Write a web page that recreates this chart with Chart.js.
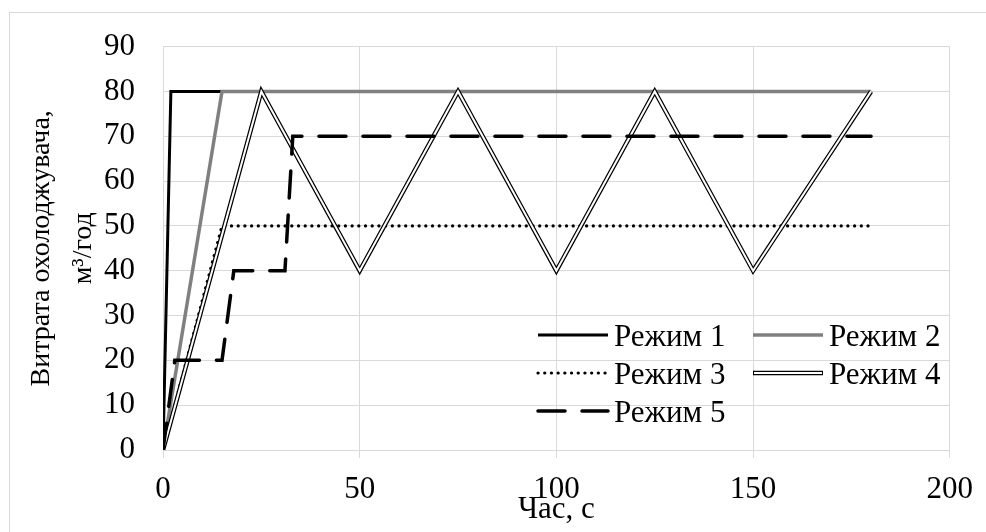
<!DOCTYPE html>
<html>
<head>
<meta charset="utf-8">
<title>Витрата охолоджувача</title>
<script src="https://cdn.jsdelivr.net/npm/chart.js"></script>
<style>
  html, body { margin: 0; padding: 0; background: #ffffff; }
  #wrap { position: relative; width: 986px; height: 532px; }
</style>
</head>
<body>
<div id="wrap"><canvas id="chart" width="986" height="532"></canvas></div>
<script>
// Series (time in s, flow in m3/h)
const seriesLabels = ['Режим 1', 'Режим 2', 'Режим 3', 'Режим 4', 'Режим 5'];

const mode1X = [0, 2, 180];
const mode1Y = [0, 80, 80];

const mode2X = [0, 15, 180];
const mode2Y = [0, 80, 80];

const mode3X = [0, 15, 180];
const mode3Y = [0, 50, 50];

const mode4X = [0, 25, 50, 75, 100, 125, 150, 180];
const mode4Y = [0, 80, 40, 80, 40, 80, 40, 80];

const mode5X = [0, 3, 15, 18, 31, 33, 180];
const mode5Y = [0, 20, 20, 40, 40, 70, 70];

// Axis ticks
const xTicks = [0, 50, 100, 150, 200];
const yTicks = [0, 10, 20, 30, 40, 50, 60, 70, 80, 90];

const FONT = '"Liberation Serif", "Times New Roman", serif';
const GRID = '#d9d9d9';

function toPoints(xs, ys) {
  return xs.map((x, i) => ({ x: x, y: ys[i] }));
}

// Legend drawn inside the plot area, two columns like the original
const insideLegend = {
  id: 'insideLegend',
  afterDraw(chart) {
    const ctx = chart.ctx;
    const cols = [{ x0: 538, x1: 608, tx: 614 }, { x0: 753, x1: 823, tx: 829 }];
    const rows = [335, 373, 411];
    const items = chart.data.datasets.filter(d => d.legendKey !== undefined);
    items.forEach((ds, i) => {
      const c = cols[i % 2];
      const y = rows[Math.floor(i / 2)];
      ctx.save();
      ctx.lineCap = ds.borderCapStyle || 'butt';
      if (ds.doubleLine) {
        ctx.strokeStyle = '#000000';
        ctx.lineWidth = 4.5;
        ctx.beginPath(); ctx.moveTo(c.x0, y); ctx.lineTo(c.x1, y); ctx.stroke();
        ctx.strokeStyle = '#ffffff';
        ctx.lineWidth = 2;
        ctx.beginPath(); ctx.moveTo(c.x0 + 1, y); ctx.lineTo(c.x1 - 1, y); ctx.stroke();
      } else {
        ctx.strokeStyle = ds.borderColor;
        ctx.lineWidth = ds.borderWidth;
        ctx.setLineDash(ds.borderDash || []);
        ctx.beginPath(); ctx.moveTo(c.x0, y); ctx.lineTo(c.x1, y); ctx.stroke();
      }
      ctx.setLineDash([]);
      ctx.fillStyle = '#000000';
      ctx.font = '31px ' + FONT;
      ctx.textAlign = 'left';
      ctx.textBaseline = 'middle';
      ctx.fillText(seriesLabels[ds.legendKey], c.tx, y + 3);
      ctx.restore();
    });
  }
};

// Thin outer frame of the chart object
const frame = {
  id: 'frame',
  beforeDraw(chart) {
    const ctx = chart.ctx;
    ctx.save();
    ctx.fillStyle = '#ffffff';
    ctx.fillRect(0, 0, chart.width, chart.height);
    ctx.strokeStyle = GRID;
    ctx.lineWidth = 1;
    ctx.strokeRect(9.5, 12.5, 1000, 1000);
    ctx.restore();
  }
};

const ctx = document.getElementById('chart').getContext('2d');

new Chart(ctx, {
  type: 'line',
  data: {
    datasets: [
      {
        label: seriesLabels[0],
        legendKey: 0,
        data: toPoints(mode1X, mode1Y),
        borderColor: '#000000',
        borderWidth: 3,
        order: 60
      },
      {
        label: seriesLabels[1],
        legendKey: 1,
        data: toPoints(mode2X, mode2Y),
        borderColor: '#808080',
        borderWidth: 3.5,
        order: 50
      },
      {
        label: seriesLabels[2],
        legendKey: 2,
        data: toPoints(mode3X, mode3Y),
        borderColor: '#000000',
        borderWidth: 3.2,
        borderDash: [0.1, 6.6],
        borderCapStyle: 'round',
        order: 40
      },
      {
        // double line: black outer stroke ...
        label: seriesLabels[3],
        legendKey: 3,
        doubleLine: true,
        data: toPoints(mode4X, mode4Y),
        borderColor: '#000000',
        borderWidth: 4.5,
        borderJoinStyle: 'miter',
        order: 31
      },
      {
        // ... and white inner stroke on top
        label: seriesLabels[3] + ' (inner)',
        data: toPoints(mode4X, mode4Y),
        borderColor: '#ffffff',
        borderWidth: 2,
        borderJoinStyle: 'miter',
        order: 30
      },
      {
        label: seriesLabels[4],
        legendKey: 4,
        data: toPoints(mode5X, mode5Y),
        borderColor: '#000000',
        borderWidth: 3.5,
        borderDash: [27, 17],
        borderCapStyle: 'round',
        order: 20
      }
    ]
  },
  options: {
    responsive: false,
    animation: false,
    devicePixelRatio: 1,
    elements: {
      point: { radius: 0, hoverRadius: 0 },
      line: { tension: 0, fill: false }
    },
    layout: { padding: { top: 40, right: 30, bottom: 0, left: 0 } },
    plugins: {
      legend: { display: false },
      tooltip: { enabled: false },
      title: { display: false }
    },
    scales: {
      x: {
        type: 'linear',
        min: 0,
        max: 200,
        afterFit(scale) { scale.height = 82; },
        afterBuildTicks(scale) { scale.ticks = xTicks.map(v => ({ value: v })); },
        grid: { color: GRID, lineWidth: 1, drawTicks: true, tickLength: 8 },
        border: { color: GRID, width: 1 },
        ticks: {
          color: '#000000',
          font: { family: FONT, size: 31 },
          padding: 13,
          maxRotation: 0
        },
        title: {
          display: true,
          text: 'Час, с',
          color: '#000000',
          font: { family: FONT, size: 31, lineHeight: 1.2 },
          padding: { top: 0, bottom: 4 }
        }
      },
      y: {
        type: 'linear',
        min: 0,
        max: 90,
        afterFit(scale) { scale.width = 163; },
        afterBuildTicks(scale) { scale.ticks = yTicks.map(v => ({ value: v })); },
        grid: { color: GRID, lineWidth: 1, drawTicks: false },
        border: { color: GRID, width: 1 },
        ticks: {
          color: '#000000',
          font: { family: FONT, size: 31 },
          padding: 28
        },
        title: {
          display: true,
          text: ['Витрата охолоджувача,', 'м³/год'],
          color: '#000000',
          font: { family: FONT, size: 28, lineHeight: 1.5 },
          padding: { top: 21, bottom: 0 }
        }
      }
    }
  },
  plugins: [frame, insideLegend]
});
</script>
</body>
</html>
